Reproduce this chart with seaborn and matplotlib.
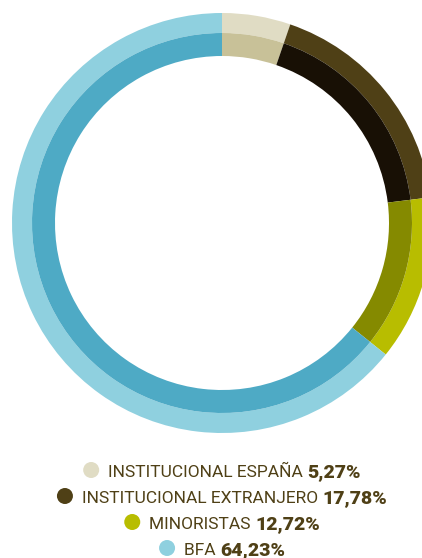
import matplotlib
matplotlib.use('Agg')
import matplotlib.pyplot as plt
import seaborn as sns
from matplotlib import font_manager
from matplotlib.patches import Circle

categories = ['INSTITUCIONAL ESPAÑA', 'INSTITUCIONAL EXTRANJERO', 'MINORISTAS', 'BFA']
values = [5.27, 17.78, 12.72, 64.23]
pct_labels = ['5,27%', '17,78%', '12,72%', '64,23%']
outer_colors = ['#e0dcc4', '#4f4016', '#b8bd00', '#8fd0df']
inner_colors = ['#c8c198', '#181005', '#858a00', '#4eaac5']
legend_colors = ['#e0dcc4', '#4f4016', '#b8bd00', '#8fd0df']

sns.set_theme(style='white')
names = {f.name for f in font_manager.fontManager.ttflist}
fam = 'Liberation Sans Narrow' if 'Liberation Sans Narrow' in names else 'Roboto'
plt.rcParams['font.family'] = [fam, 'DejaVu Sans']

W, H = 422, 558
fig = plt.figure(figsize=(W / 100, H / 100), dpi=100)
fig.patch.set_facecolor('white')

cx, cy, R = 222, 223, 210
ax = fig.add_axes([(cx - R) / W, 1 - (cy + R) / H, 2 * R / W, 2 * R / H])
ax.pie(values, radius=1.0, colors=outer_colors, startangle=90, counterclock=False,
       wedgeprops=dict(width=20 / R, linewidth=0))
ax.pie(values, radius=190 / R, colors=inner_colors, startangle=90, counterclock=False,
       wedgeprops=dict(width=23 / R, linewidth=0))
ax.set_xlim(-1, 1)
ax.set_ylim(-1, 1)
ax.set_aspect('equal')
ax.axis('off')

ov = fig.add_axes([0, 0, 1, 1])
ov.set_xlim(0, W)
ov.set_ylim(H, 0)
ov.axis('off')
ov.patch.set_alpha(0)

txt_color = '#4f4016'
fs = 12.5
fs_b = 14
baselines = [477, 503, 529, 555]
texts = []
for cat, pct in zip(categories, pct_labels):
    t1 = ov.text(0, 0, cat + ' ', fontsize=fs, color=txt_color, va='baseline', ha='left')
    t2 = ov.text(0, 0, pct, fontsize=fs_b, color=txt_color, va='baseline', ha='left', fontweight='black')
    texts.append((t1, t2))
fig.canvas.draw()
r = fig.canvas.get_renderer()
marker_d = 16
gap = 9
for (t1, t2), col, by in zip(texts, legend_colors, baselines):
    w1 = t1.get_window_extent(r).width
    w2 = t2.get_window_extent(r).width
    total = marker_d + gap + w1 + w2
    x0 = cx - total / 2
    ov.add_patch(Circle((x0 + marker_d / 2, by - 7), marker_d / 2, color=col, lw=0))
    t1.set_position((x0 + marker_d + gap, by))
    t2.set_position((x0 + marker_d + gap + w1, by))

fig.savefig('out.png', dpi=100, facecolor='white')
